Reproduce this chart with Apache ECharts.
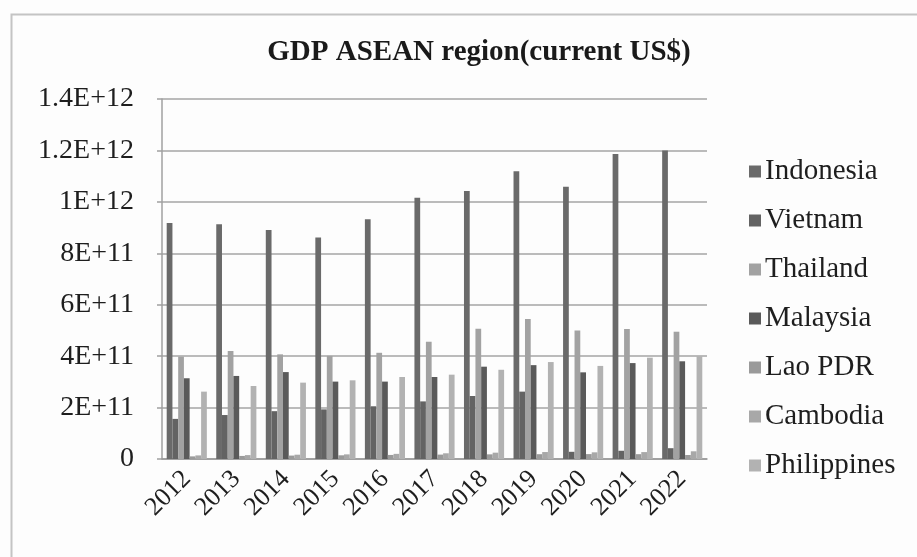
<!DOCTYPE html>
<html>
<head>
<meta charset="utf-8">
<title>GDP ASEAN region</title>
<script src="https://cdn.jsdelivr.net/npm/echarts@6/dist/echarts.min.js"></script>
<style>
  html, body { margin: 0; padding: 0; background: #fdfdfd; }
  #chart { width: 917px; height: 557px; }
</style>
</head>
<body>
<div id="chart"></div>
<script>
// Years on the category axis
const years = ['2012', '2013', '2014', '2015', '2016', '2017', '2018', '2019', '2020', '2021', '2022'];

// GDP, current US$
const indonesia   = [9.18e11, 9.13e11, 8.91e11, 8.61e11, 9.32e11, 1.016e12, 1.042e12, 1.119e12, 1.059e12, 1.186e12, 1.2e12];
const vietnam     = [1.56e11, 1.71e11, 1.86e11, 1.93e11, 2.05e11, 2.24e11, 2.45e11, 2.62e11, 2.8e10, 3.2e10, 4.2e10];
const thailand    = [3.98e11, 4.2e11, 4.07e11, 4.01e11, 4.13e11, 4.56e11, 5.07e11, 5.44e11, 5.0e11, 5.06e11, 4.95e11];
const malaysia    = [3.14e11, 3.23e11, 3.38e11, 3.01e11, 3.01e11, 3.19e11, 3.59e11, 3.65e11, 3.37e11, 3.73e11, 3.8e11];
const laoPdr      = [1.02e10, 1.19e10, 1.33e10, 1.44e10, 1.58e10, 1.71e10, 1.81e10, 1.87e10, 1.91e10, 1.88e10, 1.55e10];
const cambodia    = [1.40e10, 1.52e10, 1.67e10, 1.80e10, 2.00e10, 2.22e10, 2.46e10, 2.71e10, 2.59e10, 2.69e10, 3.0e10];
const philippines = [2.62e11, 2.84e11, 2.97e11, 3.06e11, 3.19e11, 3.28e11, 3.47e11, 3.77e11, 3.62e11, 3.94e11, 4.0e11];

// Value-axis tick labels, one per 2E+11 step
const yTickLabels = ['0', '2E+11', '4E+11', '6E+11', '8E+11', '1E+12', '1.2E+12', '1.4E+12'];

const seriesDefs = [
  { name: 'Indonesia',   data: indonesia,   color: '#6a6a6a' },
  { name: 'Vietnam',     data: vietnam,     color: '#636363' },
  { name: 'Thailand',    data: thailand,    color: '#a2a2a2' },
  { name: 'Malaysia',    data: malaysia,    color: '#5a5a5a' },
  { name: 'Lao PDR',     data: laoPdr,      color: '#9a9a9a' },
  { name: 'Cambodia',    data: cambodia,    color: '#a8a8a8' },
  { name: 'Philippines', data: philippines, color: '#b2b2b2' }
];

const serif = '"Liberation Serif", "Times New Roman", serif';
const chart = echarts.init(document.getElementById('chart'), null, { renderer: 'canvas' });

chart.setOption({
  backgroundColor: '#fdfdfd',
  animation: false,
  title: {
    text: 'GDP ASEAN region(current US$)',
    left: 474,
    top: 33,
    textAlign: 'center',
    textStyle: { fontFamily: serif, fontWeight: 'bold', fontSize: 29, color: '#1a1a1a' }
  },
  graphic: [{
    type: 'rect',
    left: 9, top: 12,
    shape: { width: 1000, height: 600 },
    style: { fill: 'none', stroke: '#c4c4c4', lineWidth: 2 },
    silent: true
  }],
  legend: {
    orient: 'vertical',
    left: 744,
    top: 152,
    itemWidth: 12,
    itemHeight: 12,
    itemGap: 20,
    icon: 'rect',
    data: seriesDefs.map(s => s.name),
    textStyle: { fontFamily: serif, fontSize: 29, color: '#1e1e1e', lineHeight: 29, padding: [0, 0, 0, -1] }
  },
  grid: { left: 162, right: 210, top: 99, bottom: 98, containLabel: false },
  xAxis: {
    type: 'category',
    data: years,
    axisLine: { show: true, lineStyle: { color: '#999', width: 1.5 } },
    axisTick: { show: false },
    axisLabel: {
      interval: 0,
      hideOverlap: false,
      rotate: 45,
      margin: 16,
      fontFamily: serif,
      fontSize: 26,
      color: '#1e1e1e'
    }
  },
  yAxis: {
    type: 'value',
    min: 0,
    max: 1.4e12,
    interval: 2e11,
    axisLine: { show: true, lineStyle: { color: '#a0a0a0', width: 1.5 } },
    axisTick: { show: true, length: 5, lineStyle: { color: '#a0a0a0', width: 1.5 } },
    splitLine: { show: true, lineStyle: { color: '#a4a4a4', width: 1.6 } },
    axisLabel: {
      margin: 28,
      fontFamily: serif,
      fontSize: 28,
      color: '#1e1e1e',
      formatter: v => yTickLabels[Math.round(v / 2e11)]
    }
  },
  series: seriesDefs.map(s => ({
    name: s.name,
    type: 'bar',
    data: s.data,
    barGap: '0%',
    barCategoryGap: '19%',
    itemStyle: { color: s.color }
  }))
});
</script>
</body>
</html>
